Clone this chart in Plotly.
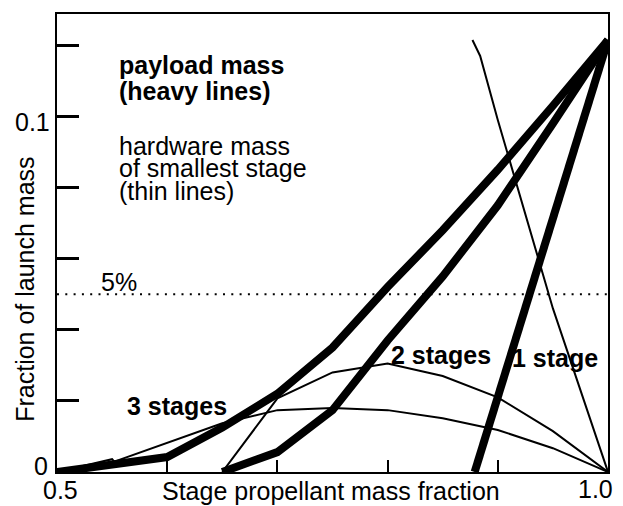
import plotly.graph_objects as go

# ---------------- data ----------------
# payload mass (heavy lines)
x_payload_3 = [0.5, 0.6, 0.65, 0.7, 0.75, 0.8, 0.85, 0.9, 0.95, 1.0]
y_payload_3 = [0.0, 0.0042, 0.0125, 0.022, 0.035, 0.052, 0.068, 0.085, 0.103, 0.1215]
x_payload_2 = [0.65, 0.7, 0.75, 0.8, 0.85, 0.9, 0.95, 1.0]
y_payload_2 = [0.0, 0.0056, 0.0174, 0.037, 0.055, 0.075, 0.098, 0.1215]
x_payload_1 = [0.879, 0.9, 0.95, 1.0]
y_payload_1 = [0.0, 0.021, 0.0715, 0.1215]

# hardware mass of smallest stage (thin lines)
x_hw_3 = [0.5, 0.55, 0.552, 0.6, 0.65, 0.7, 0.75, 0.8, 0.85, 0.9, 0.95, 1.0]
y_hw_3 = [0.0, 0.0036, 0.0029, 0.0083, 0.0137, 0.0174, 0.018, 0.0174, 0.0151, 0.0118, 0.0067, 0.0]
x_hw_2 = [0.65, 0.7, 0.75, 0.8, 0.85, 0.9, 0.95, 1.0]
y_hw_2 = [0.0, 0.0207, 0.028, 0.0305, 0.027, 0.021, 0.0115, 0.0]
x_hw_1 = [0.877, 0.884, 0.9, 0.95, 1.0]
y_hw_1 = [0.1215, 0.117, 0.099, 0.046, 0.0]

# 5% reference line
x_ref = [0.5, 1.0]
y_ref = [0.05, 0.05]

# ticks
x_tickvals = [0.5, 0.6, 0.7, 0.8, 0.9, 1.0]
x_ticklabels = ["0.5", "", "", "", "", "1.0"]
y_tickvals = [0.0, 0.02, 0.04, 0.06, 0.08, 0.10, 0.12]
y_ticklabels = ["0", "", "", "", "", "0.1", ""]

# ---------------- figure ----------------
FONT = "Liberation Sans, Arial, Helvetica, sans-serif"
FS = 25
W, H = 623, 506
L, R, T, B = 57, 15, 12, 34
PW, PH = W - L - R, H - T - B

fig = go.Figure()

thin = dict(color="black", width=2)
heavy = dict(color="black", width=8)

for xs, ys in [(x_hw_3, y_hw_3), (x_hw_2, y_hw_2), (x_hw_1, y_hw_1)]:
    fig.add_trace(go.Scatter(x=xs, y=ys, mode="lines", line=thin,
                             showlegend=False, hoverinfo="skip"))
for xs, ys in [(x_payload_3, y_payload_3), (x_payload_2, y_payload_2),
               (x_payload_1, y_payload_1)]:
    fig.add_trace(go.Scatter(x=xs, y=ys, mode="lines", line=heavy,
                             showlegend=False, hoverinfo="skip"))
fig.add_trace(go.Scatter(x=x_ref, y=y_ref, mode="lines",
                         line=dict(color="black", width=2, dash="2px,6.3px"),
                         showlegend=False, hoverinfo="skip"))


def pp(px, py):
    return (px - L) / PW, (H - B - py) / PH


def text_at(txt, px, baseline, anchor="left", bold=False, size=FS, angle=0):
    x, y = pp(px, baseline - 0.3465 * size)
    fig.add_annotation(
        text=f"<b>{txt}</b>" if bold else txt,
        x=x, y=y, xref="paper", yref="paper",
        xanchor=anchor, yanchor="middle", showarrow=False,
        textangle=angle, borderpad=0,
        font=dict(family=FONT, size=size, color="black"),
    )


text_at("payload mass", 118, 72, bold=True)
text_at("(heavy lines)", 118, 98, bold=True)
text_at("hardware mass", 118, 153)
text_at("of smallest stage", 118, 175)
text_at("(thin lines)", 118, 198)
text_at("5%", 100, 290)
text_at("3 stages", 126, 414, bold=True)
text_at("2 stages", 390, 363, bold=True)
text_at("1 stage", 511, 366, bold=True)

# x tick labels
x_label_px = {"0.5": (60, 499), "1.0": (595, 498)}
for v, t in zip(x_tickvals, x_ticklabels):
    if t:
        px, bl = x_label_px[t]
        text_at(t, px, bl, anchor="center")
# y tick labels
y_label_px = {"0": (49, 475), "0.1": (51, 129)}
for v, t in zip(y_tickvals, y_ticklabels):
    if t:
        px, bl = y_label_px[t]
        text_at(t, px, bl, anchor="right")

# axis titles
text_at("Stage propellant mass fraction", 331, 500, anchor="center")
xt, yt = pp(25, 289)
fig.add_annotation(text="Fraction of launch mass", x=xt, y=yt, xref="paper",
                   yref="paper", xanchor="center", yanchor="middle",
                   showarrow=False, textangle=-90, borderpad=0,
                   font=dict(family=FONT, size=FS, color="black"))

axis_common = dict(showgrid=False, zeroline=False, showline=True, linewidth=2,
                   linecolor="black", mirror=True, ticks="inside",
                   tickcolor="black", showticklabels=False, fixedrange=True)

fig.update_xaxes(range=[0.5, 1.0], tickmode="array", tickvals=x_tickvals,
                 ticklen=12, tickwidth=2, **axis_common)
fig.update_yaxes(range=[0, 0.1288], tickmode="array", tickvals=y_tickvals,
                 ticklen=22, tickwidth=2.5, **axis_common)

fig.update_layout(width=W, height=H, autosize=False,
                  margin=dict(l=L, r=R, t=T, b=B, pad=0),
                  plot_bgcolor="white", paper_bgcolor="white",
                  font=dict(family=FONT, size=FS, color="black"))

fig.write_html("out.html", config={"displayModeBar": False},
               post_script="document.body.style.margin='0';"
                           "document.body.style.overflow='hidden';")
